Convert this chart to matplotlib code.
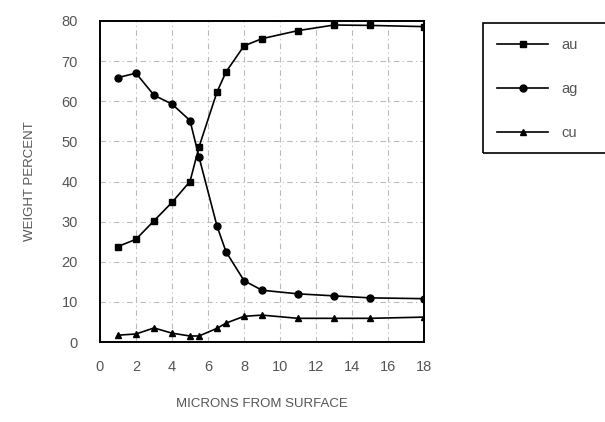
import matplotlib
matplotlib.use("Agg")
from matplotlib import pyplot as plt
from matplotlib.patches import Rectangle

plt.rcParams['font.family'] = ['Liberation Sans', 'DejaVu Sans']

# depth in microns for each measurement
depth = [1, 2, 3, 4, 5, 5.5, 6.5, 7, 8, 9, 11, 13, 15, 18]

au = [23.8, 25.6, 30.2, 34.8, 40.0, 48.6, 62.3, 67.3, 73.8, 75.6, 77.6, 79.0, 78.9, 78.6]
ag = [65.9, 67.0, 61.5, 59.3, 55.2, 46.1, 28.9, 22.5, 15.3, 12.9, 12.0, 11.5, 11.0, 10.8]
cu = [1.7, 2.0, 3.5, 2.2, 1.5, 1.5, 3.4, 4.7, 6.4, 6.7, 5.9, 5.9, 5.9, 6.2]

x_ticks = [0, 2, 4, 6, 8, 10, 12, 14, 16, 18]
y_ticks = [0, 10, 20, 30, 40, 50, 60, 70, 80]

W, H = 605, 422
fig = plt.figure(figsize=(W / 100, H / 100), dpi=100)
ax = fig.add_axes([100 / W, 80 / H, 324 / W, 321 / H])

ax.plot(depth, au, color='k', marker='s', markersize=5, lw=1.2, label='au')
ax.plot(depth, ag, color='k', marker='o', markersize=5, lw=1.2, label='ag')
ax.plot(depth, cu, color='k', marker='^', markersize=5, lw=1.2, label='cu')

ax.set_xlim(0, 18)
ax.set_ylim(0, 80)
ax.set_xticks(x_ticks)
ax.set_yticks(y_ticks)
ax.tick_params(axis='y', length=0, labelsize=10.5, labelcolor='#555555', pad=16)
ax.tick_params(axis='x', length=0, labelsize=10.5, labelcolor='#555555', pad=13)
ax.grid(True, color='#bbbbbb', linestyle=(0, (5, 3, 1, 3)), lw=0.8)
for s in ax.spines.values():
    s.set_linewidth(1.4)
    s.set_color('k')

ax.set_xlabel('MICRONS FROM SURFACE', fontsize=9.5, color='#555555', labelpad=17)
ax.set_ylabel('WEIGHT PERCENT', fontsize=9.5, color='#555555', labelpad=18)

# legend box runs off the right edge in the original
fig.patches.append(Rectangle((483 / W, 1 - 153 / H), 130 / W, 130 / H,
                             transform=fig.transFigure, fill=False,
                             edgecolor='k', lw=1.2))
leg = fig.legend(loc='upper left', bbox_to_anchor=(490 / W, 1 - 31 / H),
                 frameon=False, fontsize=10.5,
                 handlelength=3.5, labelspacing=2.05, borderpad=0.5,
                 handletextpad=0.9, borderaxespad=0)
for t in leg.get_texts():
    t.set_color('#555555')

fig.savefig('out.png', dpi=100)
